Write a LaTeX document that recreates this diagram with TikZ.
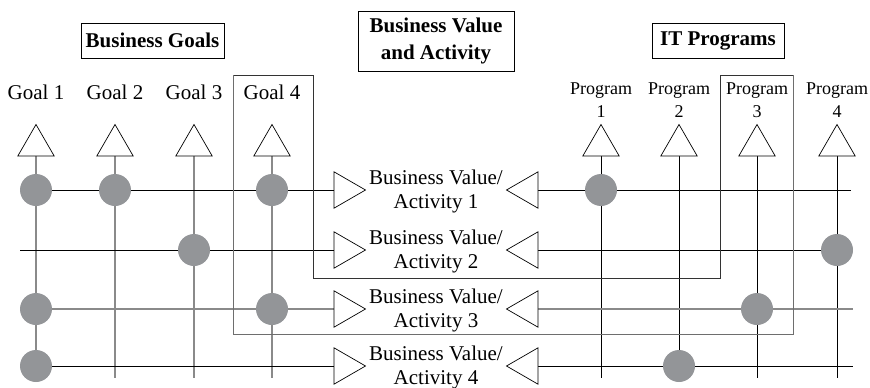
\documentclass[tikz,border=0pt]{standalone}
\usepackage{fontspec}
\setmainfont{Liberation Serif}
\usetikzlibrary{shapes.geometric,backgrounds}
\definecolor{dotgray}{HTML}{939598}
\definecolor{linegray}{HTML}{8A8A8A}
\definecolor{boxdark}{HTML}{333333}
\definecolor{boxlight}{HTML}{6E6E6E}
\begin{document}
\begin{tikzpicture}[x=1pt,y=-1pt,
  tri/.style={regular polygon, regular polygon sides=3, minimum size=42pt, inner sep=0pt, draw=black, line width=0.7pt, fill=white},
  triup/.style={tri},
  triright/.style={tri, shape border rotate=-90},
  trileft/.style={tri, shape border rotate=90},
  dot/.style={circle, fill=dotgray, inner sep=0pt, minimum size=32pt},
  glabel/.style={font=\fontsize{21}{25}\selectfont, anchor=base, inner sep=0pt},
  plabel/.style={font=\fontsize{18}{23}\selectfont, align=center, inner sep=0pt},
  bvlabel/.style={font=\fontsize{21}{24}\selectfont, align=center, inner sep=0pt},
  header/.style={draw=black, line width=0.8pt, font=\bfseries\fontsize{21}{27}\selectfont, align=center, inner sep=0pt},
  gline/.style={draw=linegray, line width=1.2pt},
  bline/.style={draw=black, line width=0.8pt},
]
\useasboundingbox (0,0) rectangle (870,388);

% headers
\node[header, minimum width=143pt, minimum height=35pt] (hgoals) at (152.5,40.5) {Business Goals};
\node[header, minimum width=156pt, minimum height=60pt] (hvalue) at (436,41) {Business Value\\and Activity};
\node[header, minimum width=132pt, minimum height=35pt] (hprog) at (718,40.5) {IT Programs};

% goal labels
\node[glabel] (gl1) at (36,99) {Goal 1};
\node[glabel] (gl2) at (115,99) {Goal 2};
\node[glabel] (gl3) at (194,99) {Goal 3};
\node[glabel] (gl4) at (272,99) {Goal 4};

% program labels
\node[plabel] (pl1) at (601,100) {Program\\1};
\node[plabel] (pl2) at (679,100) {Program\\2};
\node[plabel] (pl3) at (757,100) {Program\\3};
\node[plabel] (pl4) at (837,100) {Program\\4};

% up triangles
\node[triup] (gt1) at (36,145.5) {};
\node[triup] (gt2) at (115,145.5) {};
\node[triup] (gt3) at (194,145.5) {};
\node[triup] (gt4) at (272,145.5) {};
\node[triup] (pt1) at (601,145.5) {};
\node[triup] (pt2) at (679,145.5) {};
\node[triup] (pt3) at (757,145.5) {};
\node[triup] (pt4) at (837,145.5) {};

% row triangles
\node[triright] (ri1) at (344.5,190) {};
\node[triright] (ri2) at (344.5,250) {};
\node[triright] (ri3) at (344.5,309) {};
\node[triright] (ri4) at (344.5,366) {};
\node[trileft] (le1) at (527.5,190) {};
\node[trileft] (le2) at (527.5,250) {};
\node[trileft] (le3) at (527.5,309) {};
\node[trileft] (le4) at (527.5,366) {};

% business value labels
\node[bvlabel] (bv1) at (436,191) {Business Value/\\Activity 1};
\node[bvlabel] (bv2) at (436,251) {Business Value/\\Activity 2};
\node[bvlabel] (bv3) at (436,310) {Business Value/\\Activity 3};
\node[bvlabel] (bv4) at (436,367) {Business Value/\\Activity 4};

% dots
\node[dot] (g1r1) at (36,190) {};
\node[dot] (g2r1) at (115,190) {};
\node[dot] (g4r1) at (272,190) {};
\node[dot] (p1r1) at (601,190) {};
\node[dot] (g3r2) at (194,250) {};
\node[dot] (p4r2) at (837,250) {};
\node[dot] (g1r3) at (36,309) {};
\node[dot] (g4r3) at (272,309) {};
\node[dot] (p3r3) at (757,309) {};
\node[dot] (g1r4) at (36,366) {};
\node[dot] (p2r4) at (679,366) {};

% free ends
\coordinate (ge2) at (115,378);
\coordinate (ge3) at (194,378);
\coordinate (ge4) at (272,378);
\coordinate (pe1) at (601,378);
\coordinate (pe2) at (679,378);
\coordinate (pe3) at (757,378);
\coordinate (pe4) at (837,378);
\coordinate (r1e) at (851,190);
\coordinate (r2s) at (20,250);
\coordinate (r3e) at (853,309);
\coordinate (r4e) at (853,366);

% outline
\coordinate (o1) at (233,75);
\coordinate (o2) at (313,75);
\coordinate (o3) at (313,278);
\coordinate (o4) at (720,278);
\coordinate (o5) at (720,75);
\coordinate (o6) at (793,75);
\coordinate (o7) at (793,334);
\coordinate (o8) at (233,334);

\begin{scope}[on background layer]
  \draw[gline] (gt1.center) -- (g1r4.center);
  \draw[gline] (gt2.center) -- (ge2);
  \draw[gline] (gt3.center) -- (ge3);
  \draw[gline] (gt4.center) -- (ge4);
  \draw[bline] (pt1.center) -- (pe1);
  \draw[bline] (pt2.center) -- (pe2);
  \draw[bline] (pt3.center) -- (pe3);
  \draw[bline] (pt4.center) -- (pe4);
  \draw[bline] (g1r1.center) -- (ri1.center);
  \draw[bline] (le1.center) -- (r1e);
  \draw[bline] (r2s) -- (ri2.center);
  \draw[bline] (le2.center) -- (p4r2.center);
  \draw[gline] (g1r3.center) -- (ri3.center);
  \draw[gline] (le3.center) -- (r3e);
  \draw[bline] (g1r4.center) -- (ri4.center);
  \draw[bline] (le4.center) -- (r4e);
  \draw[draw=boxdark, line width=0.8pt, line join=miter] (o6) -- (o5) -- (o4) -- (o3) -- (o2) -- (o1);
  \draw[draw=boxlight, line width=1pt, line join=miter] (o1) -- (o8) -- (o7) -- (o6);
\end{scope}
\end{tikzpicture}
\end{document}
